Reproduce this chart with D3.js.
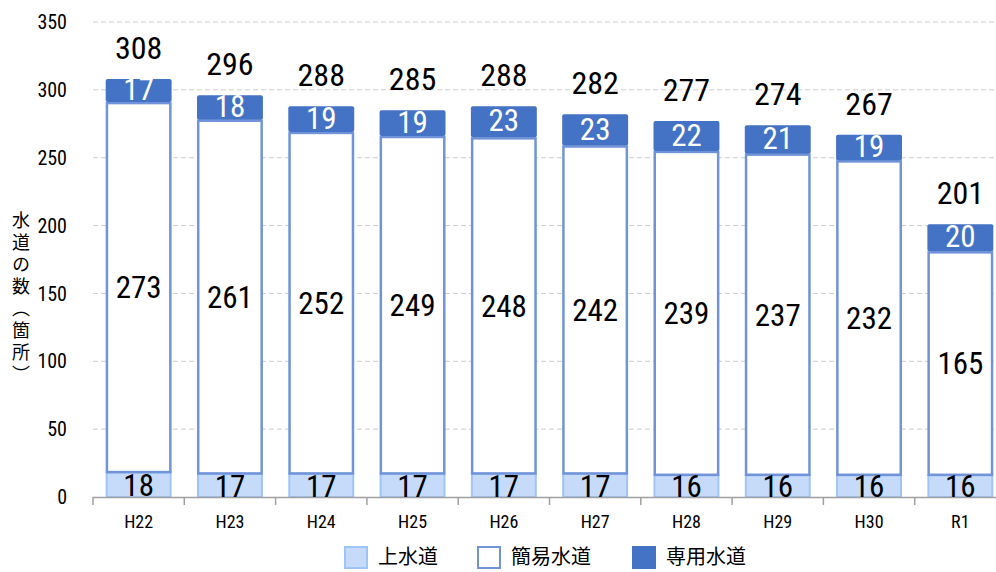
<!DOCTYPE html>
<html><head><meta charset="utf-8">
<script src="https://cdn.jsdelivr.net/npm/d3@7"></script>
<style>
body{margin:0;background:#fff;}
svg{display:block;}
</style></head>
<body>
<svg id="chart" width="996" height="572"></svg>
<script>
const categories = ["H22","H23","H24","H25","H26","H27","H28","H29","H30","R1"];
const josuido = [18,17,17,17,17,17,16,16,16,16];
const kanni = [273,261,252,249,248,242,239,237,232,165];
const senyo = [17,18,19,19,23,23,22,21,19,20];
const yTicks = [0,50,100,150,200,250,300,350];
const seriesNames = ["上水道","簡易水道","専用水道"];
const axisTitle = "水道の数（箇所）";

const numFont = "'Liberation Sans Narrow','Roboto Condensed','Arial Narrow',Roboto,sans-serif";
const jpFont = "'Noto Sans CJK JP','Noto Sans',sans-serif";

const svg = d3.select("#chart");
const x = d3.scaleBand().domain(categories).range([93,1006]).paddingInner(0).paddingOuter(0);
const y = d3.scaleLinear().domain([0,350]).range([497,22]);
const barW = x.bandwidth()*0.722;

// gridlines
svg.append("g").selectAll("line").data(yTicks.filter(d=>d>0)).join("line")
  .attr("x1",93).attr("x2",996).attr("y1",d=>y(d)).attr("y2",d=>y(d))
  .attr("stroke","#cdcdcd").attr("stroke-width",1).attr("stroke-dasharray","5,3");

// y tick labels
svg.append("g").selectAll("text").data(yTicks).join("text")
  .attr("x",67).attr("y",d=>y(d)).attr("dy","0.36em").attr("text-anchor","end")
  .attr("font-family",numFont).attr("font-size",20).attr("fill","#000").text(d=>d);

// axis title (vertical)
svg.append("text").attr("x",21).attr("y",211)
  .attr("font-family",jpFont).attr("font-size",18).attr("fill","#000")
  .style("writing-mode","vertical-rl").style("text-orientation","upright")
  .style("letter-spacing","4px")
  .text(axisTitle);

const rows = categories.map((c,i)=>({c, a:josuido[i], b:kanni[i], s:senyo[i], t:josuido[i]+kanni[i]+senyo[i]}));
const g = svg.append("g");
const bx = d=>x(d.c)+(x.bandwidth()-barW)/2;

// 上水道
g.selectAll("rect.a").data(rows).join("rect").attr("class","a")
  .attr("x",d=>bx(d)+1).attr("width",barW-2)
  .attr("y",d=>y(d.a)).attr("height",d=>y(0)-y(d.a))
  .attr("fill","#c6dbfa").attr("stroke","#9fc4f6").attr("stroke-width",2);
// 簡易水道
g.selectAll("rect.b").data(rows).join("rect").attr("class","b")
  .attr("x",d=>bx(d)+1.25).attr("width",barW-2.5)
  .attr("y",d=>y(d.a+d.b)+1).attr("height",d=>y(d.a)-y(d.a+d.b)-1.5)
  .attr("fill","#fff").attr("stroke","#7093d9").attr("stroke-width",2.5);
// 専用水道
g.selectAll("rect.s").data(rows).join("rect").attr("class","s")
  .attr("x",d=>bx(d)).attr("width",barW)
  .attr("y",d=>y(d.t)).attr("height",d=>y(d.a+d.b)-y(d.t))
  .attr("rx",2).attr("fill","#4472c4");

// x axis
svg.append("line").attr("x1",93).attr("x2",996).attr("y1",497.5).attr("y2",497.5)
  .attr("stroke","#a0a0a0").attr("stroke-width",1.5);
svg.append("g").selectAll("line").data(categories).join("line")
  .attr("x1",d=>x(d)).attr("x2",d=>x(d)).attr("y1",497).attr("y2",505)
  .attr("stroke","#a0a0a0").attr("stroke-width",1.5);
svg.append("g").selectAll("text").data(categories).join("text")
  .attr("x",d=>x(d)+x.bandwidth()/2).attr("y",528).attr("text-anchor","middle")
  .attr("font-family",numFont).attr("font-size",18).attr("fill","#000").text(d=>d);

// labels
const lab = svg.append("g").attr("font-family",numFont).attr("text-anchor","middle");
lab.selectAll("text.a").data(rows).join("text").attr("class","a")
  .attr("x",d=>bx(d)+barW/2).attr("y",d=>(y(0)+y(d.a))/2).attr("dy","0.36em")
  .attr("font-size",31).attr("fill","#000").text(d=>d.a);
lab.selectAll("text.b").data(rows).join("text").attr("class","b")
  .attr("x",d=>bx(d)+barW/2).attr("y",d=>(y(d.a)+y(d.a+d.b))/2).attr("dy","0.36em")
  .attr("font-size",31).attr("fill","#000").text(d=>d.b);
lab.selectAll("text.s").data(rows).join("text").attr("class","s")
  .attr("x",d=>bx(d)+barW/2).attr("y",d=>(y(d.a+d.b)+y(d.t))/2-1.5).attr("dy","0.36em")
  .attr("font-size",31).attr("fill","#fff").text(d=>d.s);
lab.selectAll("text.t").data(rows).join("text").attr("class","t")
  .attr("x",d=>bx(d)+barW/2).attr("y",d=>y(d.t)-20)
  .attr("font-size",32).attr("fill","#000").text(d=>d.t);

// legend
const legX = [344,477,632];
const leg = svg.append("g");
const styles = [
  {fill:"#c6dbfa",stroke:"#9fc4f6"},
  {fill:"#fff",stroke:"#7093d9"},
  {fill:"#4472c4",stroke:"#4472c4"}
];
seriesNames.forEach((n,i)=>{
  leg.append("rect").attr("x",legX[i]+1).attr("y",547).attr("width",22).attr("height",21)
    .attr("fill",styles[i].fill).attr("stroke",styles[i].stroke).attr("stroke-width",2);
  leg.append("text").attr("x",legX[i]+34).attr("y",557).attr("dy","0.36em")
    .attr("font-family",jpFont).attr("font-size",20).attr("fill","#000").text(n);
});
</script>
</body></html>
